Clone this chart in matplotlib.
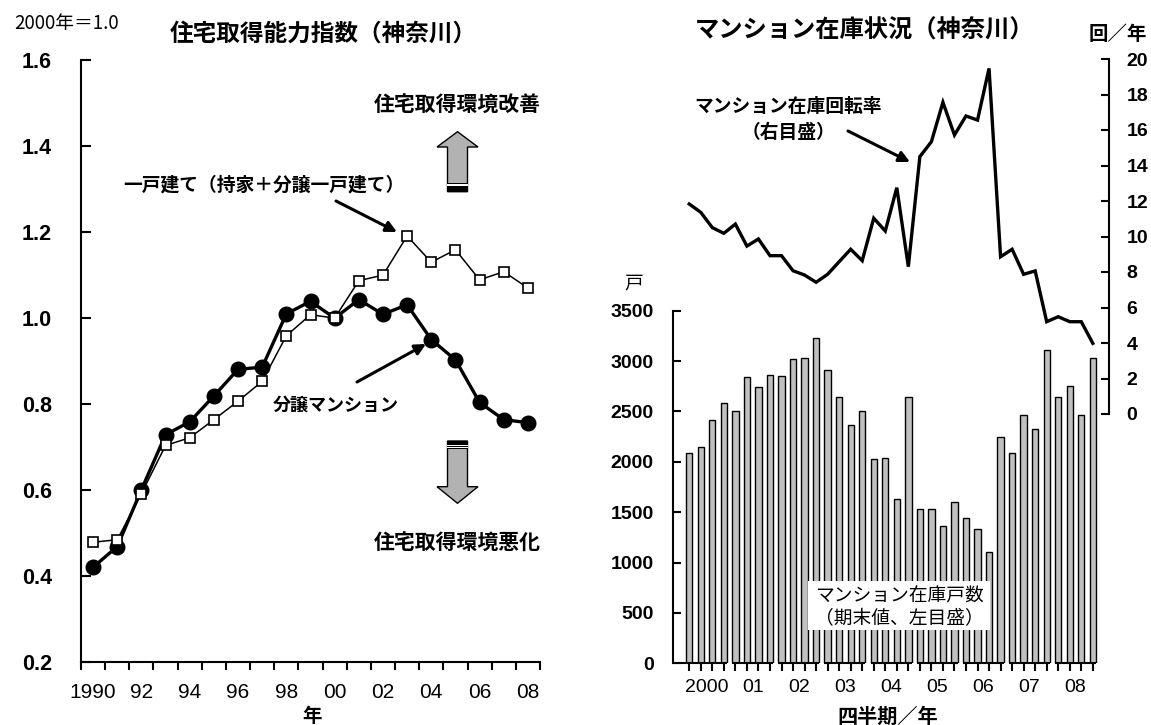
import matplotlib
matplotlib.use('Agg')
import matplotlib.pyplot as plt
from matplotlib.patches import Polygon, Rectangle, FancyArrowPatch
from matplotlib.ticker import FixedLocator, FuncFormatter
import numpy as np

# ---- data -------------------------------------------------------------
years = list(range(1990, 2009))
year_labels = ['1990', '', '92', '', '94', '', '96', '', '98', '',
               '00', '', '02', '', '04', '', '06', '', '08']
# housing affordability index, 2000 = 1.0
condo_index = [0.421, 0.469, 0.601, 0.729, 0.759, 0.819, 0.881, 0.886, 1.010, 1.039,
               1.000, 1.043, 1.009, 1.031, 0.950, 0.903, 0.804, 0.764, 0.757]
house_index = [0.479, 0.485, 0.592, 0.704, 0.722, 0.764, 0.807, 0.853, 0.959, 1.008,
               1.000, 1.087, 1.100, 1.191, 1.130, 1.159, 1.089, 1.108, 1.070]

quarter_years = ['2000', '01', '02', '03', '04', '05', '06', '07', '08']
# condominium stock at quarter end (units)
stock_units = [2091, 2150, 2413, 2585, 2506, 2845, 2739, 2861, 2848, 3019, 3033, 3230,
               2911, 2644, 2367, 2506, 2028, 2041, 1627, 2644, 1534, 1534, 1360, 1597,
               1439, 1333, 1103, 2246, 2091, 2460, 2321, 3108, 2644, 2753, 2460, 3033]
# stock turnover rate (times per year)
turnover = [11.83, 11.36, 10.50, 10.18, 10.70, 9.46, 9.86, 8.92, 8.92, 8.07, 7.83, 7.42,
            7.87, 8.58, 9.28, 8.64, 11.03, 10.31, 12.75, 8.30, 14.50, 15.34, 17.56, 15.72,
            16.79, 16.56, 19.47, 8.86, 9.28, 7.87, 8.06, 5.20, 5.48, 5.20, 5.20, 3.98]

# ---- layout helpers ---------------------------------------------------
W, H = 1151, 725
JP = ['Noto Sans CJK JP', 'DejaVu Sans']
NUM = ['Liberation Sans', 'DejaVu Sans']

fig = plt.figure(figsize=(W / 100, H / 100), dpi=100)
fig.patch.set_facecolor('white')


def box(l, t, r, b):
    return [l / W, 1 - b / H, (r - l) / W, (b - t) / H]


def fp(x, y):
    return (x / W, 1 - y / H)


def ftext(x, y, s, size, weight='normal', **kw):
    return fig.text(*fp(x, y), s, fontsize=size, fontweight=weight, family=JP,
                    ha=kw.pop('ha', 'center'), va=kw.pop('va', 'center'), **kw)


def block_arrow(cx, tip, base, end, head_hw, shaft_hw):
    pts = [(cx, tip), (cx + head_hw, base), (cx + shaft_hw, base), (cx + shaft_hw, end),
           (cx - shaft_hw, end), (cx - shaft_hw, base), (cx - head_hw, base)]
    fig.patches.append(Polygon([fp(*p) for p in pts], closed=True, transform=fig.transFigure,
                               facecolor='#b2b2b2', edgecolor='black', lw=1.0))


def band(cx, hw, y0, y1, color):
    x0, yb = fp(cx - hw, y1)
    fig.patches.append(Rectangle((x0, yb), 2 * hw / W, (y1 - y0) / H, transform=fig.transFigure,
                                 facecolor=color, edgecolor='none', lw=0))


arrow_kw = dict(arrowstyle='-|>', color='black', lw=2.2, mutation_scale=16, shrinkA=0, shrinkB=0)


def pointer(x0, y0, x1, y1):
    fig.add_artist(FancyArrowPatch(fp(x0, y0), fp(x1, y1), transform=fig.transFigure, **arrow_kw))


# ---- left panel: affordability index ----------------------------------
ax1 = fig.add_axes(box(81, 60, 540, 662.3))
x = np.arange(len(years))
ax1.plot(x, condo_index, color='black', lw=2.4, marker='o', ms=10.5,
         mfc='black', mec='black', zorder=2, clip_on=False)
ax1.plot(x, house_index, color='black', lw=1.1, marker='s', ms=7,
         mfc='white', mec='black', mew=1.2, zorder=3, clip_on=False)
ax1.set_xlim(-0.5, len(years) - 0.5)
ax1.set_ylim(0.2, 1.6)
ax1.set_yticks(np.arange(0.2, 1.61, 0.2))
ax1.yaxis.set_major_formatter(FuncFormatter(lambda v, p: f'{v:.1f}'))
ax1.xaxis.set_major_locator(FixedLocator(np.arange(-0.5, len(years), 1.0)))
ax1.xaxis.set_major_formatter(FuncFormatter(lambda v, p: ''))
ax1.xaxis.set_minor_locator(FixedLocator(x))
ax1.set_xticklabels(year_labels, minor=True)
for s in ('top', 'right'):
    ax1.spines[s].set_visible(False)
for s in ('left', 'bottom'):
    ax1.spines[s].set_linewidth(1.5)
ax1.tick_params(axis='y', direction='in', length=7, width=1.5, pad=21, labelsize=15.5)
ax1.tick_params(axis='x', which='major', direction='out', length=6, width=1.5)
ax1.tick_params(axis='x', which='minor', length=0, pad=15, labelsize=15)
for lab in ax1.get_yticklabels():
    lab.set_family(NUM)
    lab.set_fontweight('bold')
for lab in ax1.get_xticklabels(minor=True):
    lab.set_family(NUM)

ftext(67, 23, '2000年＝1.0', 13.5)
ftext(323, 34, '住宅取得能力指数（神奈川）', 17, 'bold')
ftext(312, 716, '年', 14, 'bold')
ftext(457, 105, '住宅取得環境改善', 15, 'bold')
ftext(457, 543, '住宅取得環境悪化', 15, 'bold')
ftext(264, 185, '一戸建て（持家＋分譲一戸建て）', 13.5, 'bold')
ftext(336, 405, '分譲マンション', 13, 'bold')
pointer(336, 201, 397, 232)
pointer(357, 382, 426, 344)

# improvement / deterioration arrows
block_arrow(457.5, 131.7, 147, 191.7, 20.5, 10)
band(457.5, 10.5, 182.5, 184, 'black')
band(457.5, 10.5, 184, 185.5, 'white')
band(457.5, 10.5, 185.5, 192, 'black')
block_arrow(457.5, 503.3, 486.7, 441, 20.5, 10)
band(457.5, 10.5, 441, 444.5, 'black')
band(457.5, 10.5, 444.5, 445.5, 'white')
band(457.5, 10.5, 445.5, 446.5, 'black')
band(457.5, 10.5, 446.5, 447.8, 'white')
band(457.5, 10.5, 447.8, 449, 'black')

# ---- right panel: condominium stock -----------------------------------
q = np.arange(len(stock_units))
xlim_q = (-1.41, 36.36)
bar_w = 0.55

ax2 = fig.add_axes(box(673, 310.7, 1108.5, 663.3))
ax2.set_facecolor('none')
ax2.bar(q, stock_units, width=bar_w, color='#c0c0c0', edgecolor='black', lw=1.0, zorder=2)
ax2.set_xlim(*xlim_q)
ax2.set_ylim(0, 3500)
ax2.set_yticks(np.arange(0, 3501, 500))
for s in ('top', 'right', 'bottom'):
    ax2.spines[s].set_visible(False)
ax2.spines['left'].set_linewidth(1.5)
# baseline broken between years
n_years = len(quarter_years)
starts = [xlim_q[0] if k == 0 else 4 * k - bar_w / 2 for k in range(n_years)]
ends = [4 * k + 3 + bar_w / 2 for k in range(n_years)]
ax2.hlines([0] * n_years, starts, ends, color='black', lw=1.5, clip_on=False, zorder=3)
ax2.xaxis.set_major_locator(FixedLocator(q))
ax2.xaxis.set_major_formatter(FuncFormatter(lambda v, p: ''))
ax2.xaxis.set_minor_locator(FixedLocator([4 * k + 1.5 for k in range(n_years)]))
ax2.set_xticklabels(quarter_years, minor=True)
ax2.tick_params(axis='x', which='major', direction='out', length=6, width=1.5)
ax2.tick_params(axis='x', which='minor', length=0, pad=11, labelsize=14)
ax2.tick_params(axis='y', direction='in', length=6, width=1.5, pad=14, labelsize=14)
for lab in ax2.get_yticklabels():
    lab.set_family(NUM)
    lab.set_fontweight('bold')
for lab in ax2.get_xticklabels(minor=True):
    lab.set_family(NUM)

t1 = ftext(899, 596, 'マンション在庫戸数', 13.5)
t2 = ftext(899, 619, '（期末値、左目盛）', 13.5)
for t in (t1, t2):
    t.set_zorder(5)
fig.patches.append(Rectangle(fp(808, 630), 182 / W, 49 / H, transform=fig.transFigure,
                             facecolor='white', edgecolor='none', zorder=4))

ax3 = fig.add_axes(box(673, 59, 1108.5, 414))
ax3.set_facecolor('none')
ax3.plot(q, turnover, color='black', lw=2.4, solid_joinstyle='miter', clip_on=False)
ax3.set_xlim(*xlim_q)
ax3.set_ylim(0, 20)
ax3.set_yticks(np.arange(0, 21, 2))
ax3.yaxis.tick_right()
ax3.set_xticks([])
for s in ('top', 'left', 'bottom'):
    ax3.spines[s].set_visible(False)
ax3.spines['right'].set_linewidth(1.5)
ax3.tick_params(axis='y', direction='in', length=6, width=1.5, pad=13, labelsize=14)
for lab in ax3.get_yticklabels():
    lab.set_family(NUM)
    lab.set_fontweight('bold')

ftext(865, 31, 'マンション在庫状況（神奈川）', 17.5, 'bold')
ftext(1118, 34, '回／年', 14, 'bold')
ftext(634, 283, '戸', 13.5)
ftext(888, 716, '四半期／年', 14.5, 'bold')
ftext(788, 107, 'マンション在庫回転率', 13.5, 'bold')
ftext(789, 132, '（右目盛）', 13.5, 'bold')
pointer(848, 131, 910, 162)

fig.savefig('out.png', dpi=100, facecolor='white')
